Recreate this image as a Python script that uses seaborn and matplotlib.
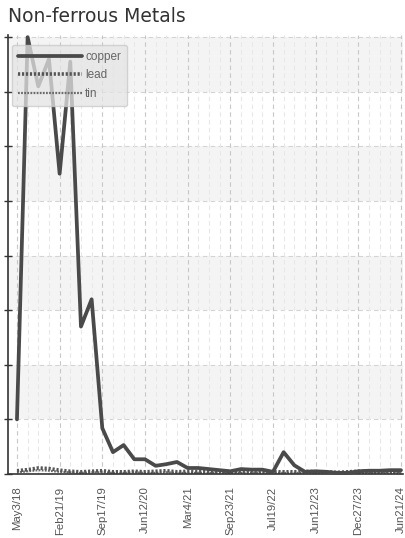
import matplotlib
matplotlib.use("Agg")
import matplotlib.pyplot as plt
import matplotlib.transforms as mtrans
import seaborn as sns
import pandas as pd
import numpy as np

# ---- data ----
tick_labels = ["May3/18", "Feb21/19", "Sep17/19", "Jun12/20", "Mar4/21",
               "Sep23/21", "Jul19/22", "Jun12/23", "Dec27/23", "Jun21/24"]
copper = [1.0, 8.0, 7.1, 7.6, 5.5, 7.55, 2.7, 3.2, 0.84, 0.40,
          0.53, 0.27, 0.27, 0.15, 0.18, 0.22, 0.11, 0.11, 0.09, 0.07,
          0.05, 0.09, 0.08, 0.08, 0.04, 0.40, 0.16, 0.04, 0.05, 0.04,
          0.02, 0.02, 0.05, 0.06, 0.06, 0.07, 0.07]
lead = [0.06, 0.08, 0.11, 0.10, 0.07, 0.05, 0.04, 0.05, 0.06, 0.04,
        0.04, 0.05, 0.04, 0.05, 0.06, 0.04, 0.05, 0.04, 0.04, 0.05,
        0.04, 0.05, 0.04, 0.04, 0.04, 0.04, 0.04, 0.05, 0.04, 0.04,
        0.03, 0.04, 0.05, 0.05, 0.05, 0.05, 0.05]
tin = [0.03, 0.05, 0.07, 0.06, 0.04, 0.03, 0.02, 0.03, 0.03, 0.02,
       0.02, 0.03, 0.02, 0.02, 0.03, 0.02, 0.02, 0.02, 0.02, 0.02,
       0.02, 0.02, 0.02, 0.02, 0.02, 0.02, 0.02, 0.02, 0.02, 0.02,
       0.02, 0.02, 0.02, 0.02, 0.02, 0.02, 0.02]
label_step = 4

n = len(copper)
idx = list(range(n))
df = pd.DataFrame({"idx": idx * 3,
                   "value": copper + lead + tin,
                   "metal": ["copper"] * n + ["lead"] * n + ["tin"] * n})

sns.set_style("white")
plt.rcParams['font.family'] = ['DejaVu Sans']
narrow = ['Liberation Sans Narrow', 'Liberation Sans', 'DejaVu Sans']

fig = plt.figure(figsize=(4.05, 5.38), dpi=100)
ax = fig.add_axes([8 / 405, 1 - 474 / 538, 395 / 405, 439 / 538])

ymax = 8.04
# alternating bands
for k in range(0, 8):
    if k % 2 == 1:
        ax.axhspan(k, k + 1, color='#f4f4f4', zorder=0, lw=0)

# grid lines
for k in range(1, 9):
    ax.axhline(k, color='#d4d4d4', ls=(0, (4, 3)), lw=0.8, zorder=0.5)
for i in idx:
    major = (i % label_step == 0)
    ax.axvline(i, color='#c8c8c8' if major else '#e8e8e8',
               ls=(0, (4, 3)), lw=0.8, zorder=0.5)

palette = {"copper": "#4a4a4a", "lead": "#555555", "tin": "#6a6a6a"}
sns.lineplot(data=df[df.metal == "copper"], x="idx", y="value", ax=ax,
             color=palette["copper"], lw=2.7, label="copper", zorder=3)
sns.lineplot(data=df[df.metal == "lead"], x="idx", y="value", ax=ax,
             color=palette["lead"], lw=2.6, label="lead", zorder=2.5,
             linestyle=(0, (0.6, 0.5)))
sns.lineplot(data=df[df.metal == "tin"], x="idx", y="value", ax=ax,
             color=palette["tin"], lw=1.6, label="tin", zorder=2.4,
             linestyle=(0, (0.8, 0.6)))
for ln in ax.get_lines():
    ln.set_clip_on(False)

ax.set_xlim(-0.84, n - 1 + 0.19)
ax.set_ylim(0, ymax)

ax.set_xticks(idx[::label_step])
ax.set_xticklabels(tick_labels, rotation=90, fontsize=8.2, color='#555555',
                   family=narrow)
# nudge the last label so it stays inside the figure
last = ax.get_xticklabels()[-1]
last.set_transform(last.get_transform() +
                   mtrans.ScaledTranslation(-3 / 100, 0, fig.dpi_scale_trans))
ax.set_yticks(range(0, 9))
ax.set_yticklabels([])
ax.tick_params(axis='y', direction='inout', length=6, width=1, color='#333333', left=True)
ax.tick_params(axis='x', length=0, pad=9)
ax.set_xlabel("")
ax.set_ylabel("")

for s in ['top', 'right']:
    ax.spines[s].set_visible(False)
ax.spines['left'].set_color('#333333')
ax.spines['bottom'].set_color('#333333')
ax.spines['left'].set_linewidth(1.2)
ax.spines['bottom'].set_linewidth(1.2)

leg = ax.legend(loc='upper left', bbox_to_anchor=(0.01, 0.977),
                borderaxespad=0.0,
                handlelength=5.4, handletextpad=0.3, labelspacing=0.55,
                borderpad=0.5, fancybox=True, framealpha=0.75,
                prop={'family': narrow, 'size': 8.5})
leg.get_frame().set_facecolor('#e4e4e4')
leg.get_frame().set_edgecolor('#c8c8c8')
for t in leg.get_texts():
    t.set_color('#666666')

fig.text(8 / 405, 1 - 17 / 538, "Non-ferrous Metals", fontsize=13.5,
         color='#333333', va='center', ha='left')

fig.savefig("out.png", dpi=100)
